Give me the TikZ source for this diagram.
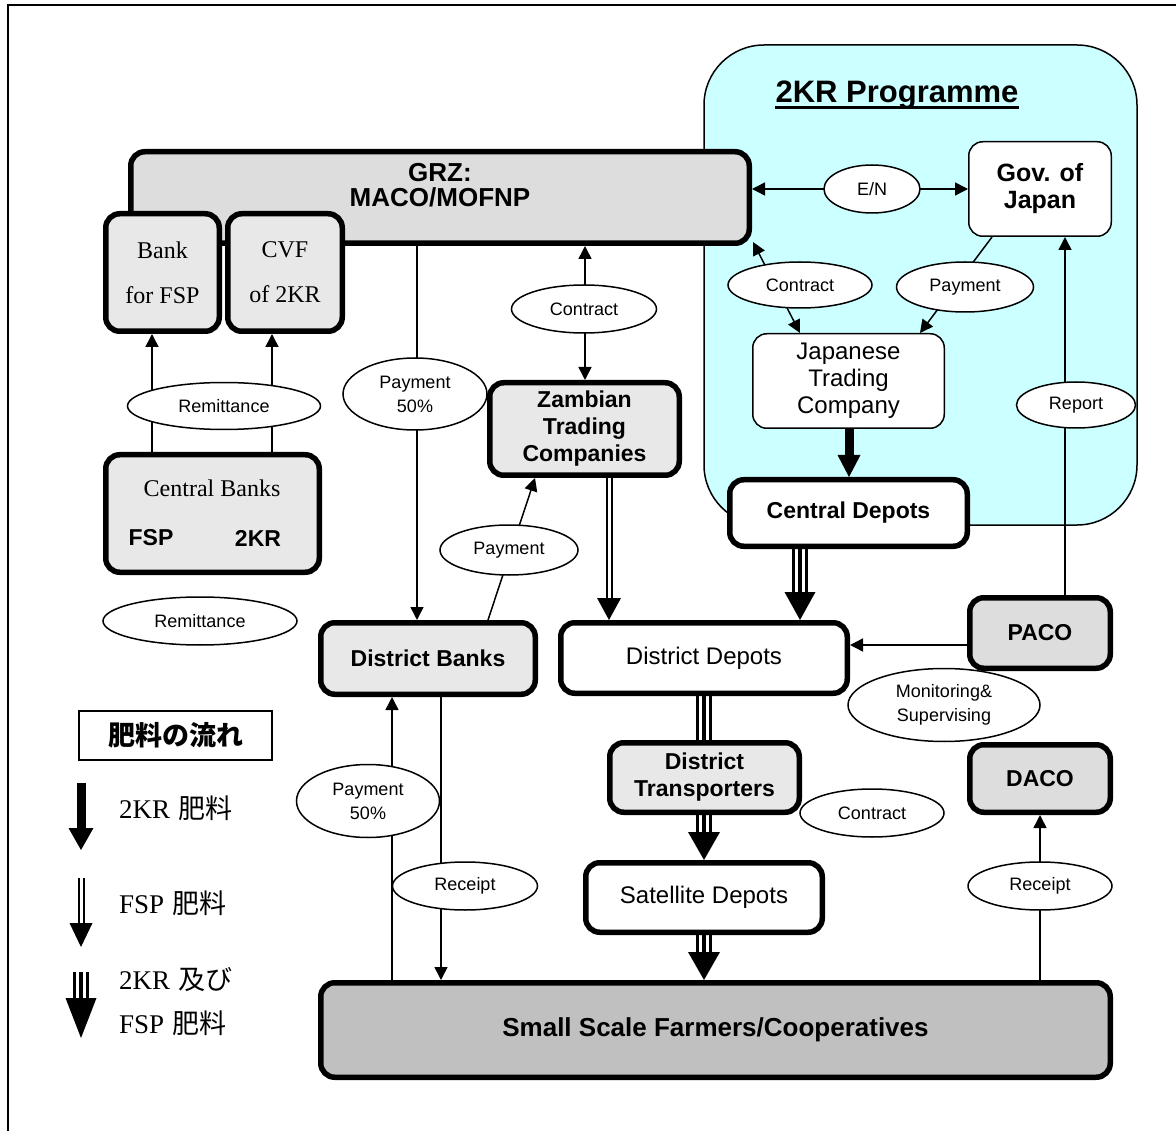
\documentclass[tikz,border=0pt]{standalone}
\usepackage{fontspec}
\setmainfont{Liberation Sans}
\newfontfamily\serifface{Liberation Serif}
\newfontfamily\jpfont{Noto Sans CJK JP}
\usetikzlibrary{shapes.geometric,arrows.meta}
\pgfdeclarelayer{back}
\pgfdeclarelayer{wires}
\pgfsetlayers{back,wires,main}
\definecolor{progcyan}{HTML}{CCFFFF}
\definecolor{midgray}{HTML}{DDDDDD}
\definecolor{palegray}{HTML}{E8E8E8}
\definecolor{farmgray}{HTML}{C0C0C0}
\tikzset{
  heavy/.style={draw, line width=5.5pt, rounded corners=14pt, align=center, inner sep=0pt,
    font=\fontsize{23}{27}\selectfont\bfseries},
  light/.style={draw, line width=1.5pt, rounded corners=14pt, align=center, inner sep=0pt, fill=white},
  oval/.style={draw, ellipse, line width=1.5pt, fill=white, inner sep=0pt, align=center,
    font=\fontsize{18}{24}\selectfont},
  txt/.style={inner sep=0pt, align=center},
  serifbox/.style={font=\serifface\fontsize{24}{45}\selectfont},
  arr/.style={line width=1.5pt, -{Triangle[length=13pt,width=13pt]}},
  arrboth/.style={line width=1.5pt, {Triangle[length=13pt,width=13pt]}-{Triangle[length=13pt,width=13pt]}},
  % three-stripe flow (2KR and FSP)
  triA/.style={line width=16pt},
  triB/.style={draw=white, line width=10pt},
  triC/.style={line width=4pt},
  % two-stripe flow (FSP)
  dblA/.style={line width=7pt},
  dblB/.style={draw=white, line width=3pt},
  % solid flow (2KR)
  fat/.style={line width=9pt},
  legendtext/.style={inner sep=0pt, anchor=west, font=\fontsize{27}{30}\selectfont}
}
\begin{document}
\begin{tikzpicture}[x=1pt,y=-1pt]
\useasboundingbox (0,0) rectangle (1176,1131);

% programme area
\begin{pgfonlayer}{back}
  \draw[fill=progcyan, line width=1.5pt, rounded corners=60pt] (704,45) rectangle (1137,525);
\end{pgfonlayer}

% outer frame
\draw[line width=2pt] (8,5) rectangle (1200,1160);

% title
\node[txt, anchor=base, font=\fontsize{31}{34}\selectfont\bfseries] (ttl) at (897,103) {2KR Programme};
\draw[line width=3pt] ([yshift=-5pt]ttl.base west) -- ([yshift=-5pt]ttl.base east);

% government and banks
\node[heavy, fill=midgray, minimum width=618.5pt, minimum height=91.5pt] (grz) at (440,197.5) {};
\node[txt, font=\fontsize{26}{25}\selectfont\bfseries] (grzt) at (440,185) {GRZ:\\MACO/MOFNP};
\node[heavy, serifbox, fill=palegray, minimum width=113.5pt, minimum height=117.5pt] (bank) at (162.5,272.5) {Bank\\for FSP};
\node[heavy, serifbox, fill=palegray, minimum width=114.5pt, minimum height=117.5pt] (cvf) at (285,272.5) {CVF\\of 2KR};
\node[heavy, fill=palegray, minimum width=213.5pt, minimum height=117.5pt] (cb) at (212.5,513.5) {};
\node[txt, font=\serifface\fontsize{24}{28}\selectfont] (cbt) at (212,488) {Central Banks};
\node[txt, font=\fontsize{23}{27}\selectfont\bfseries] (cbf) at (151,538) {FSP};
\node[txt, font=\fontsize{23}{27}\selectfont\bfseries] (cbk) at (258,538) {2KR};

% trading and depots
\node[heavy, fill=palegray, minimum width=189.5pt, minimum height=92.5pt] (zam) at (584.5,429) {Zambian\\Trading\\Companies};
\node[heavy, fill=palegray, minimum width=214.5pt, minimum height=71.5pt] (db) at (428,658.5) {District Banks};
\node[heavy, fill=white, font=\fontsize{24}{27}\selectfont, minimum width=286.5pt, minimum height=70.5pt] (dd) at (704,658) {District Depots};
\node[heavy, fill=white, minimum width=237.5pt, minimum height=66.5pt] (cd) at (848.5,513) {Central Depots};
\node[light, font=\fontsize{24}{27}\selectfont, minimum width=191.5pt, minimum height=94.5pt] (jtc) at (848.5,381) {Japanese\\Trading\\Company};
\node[light, font=\fontsize{25}{27}\selectfont\bfseries, minimum width=142.5pt, minimum height=94.5pt] (gov) at (1040,189) {Gov. of\\Japan};
\node[heavy, fill=midgray, minimum width=140.5pt, minimum height=70.5pt] (paco) at (1040,633) {PACO};
\node[heavy, fill=midgray, minimum width=140.5pt, minimum height=67.5pt] (daco) at (1040,778.5) {DACO};
\node[heavy, fill=palegray, minimum width=189.5pt, minimum height=69.5pt] (dt) at (704.5,777.5) {District\\Transporters};
\node[heavy, fill=white, font=\fontsize{24}{27}\selectfont, minimum width=236.5pt, minimum height=69.5pt] (sd) at (704,897.5) {Satellite Depots};
\node[heavy, fill=farmgray, font=\fontsize{26}{30}\selectfont\bfseries, minimum width=789.5pt, minimum height=94.5pt] (fa) at (715.5,1030) {Small Scale Farmers/Cooperatives};

% labels on the connectors
\node[oval, minimum width=193pt, minimum height=47pt] (rem1) at (224,406) {Remittance};
\node[oval, minimum width=194pt, minimum height=48pt] (rem2) at (200,621) {Remittance};
\node[oval, minimum width=144pt, minimum height=72pt] (pay50a) at (415,394) {Payment\\50\%};
\node[oval, minimum width=145pt, minimum height=48pt] (con1) at (584,309) {Contract};
\node[oval, minimum width=138pt, minimum height=50pt] (pay2) at (509,550) {Payment};
\node[oval, minimum width=96pt, minimum height=48pt] (en) at (872,189) {E/N};
\node[oval, minimum width=144pt, minimum height=46pt] (con2) at (800,285) {Contract};
\node[oval, minimum width=137pt, minimum height=50pt] (pay3) at (965,287) {Payment};
\node[oval, minimum width=119pt, minimum height=46pt] (rep) at (1076,405) {Report};
\node[oval, minimum width=192pt, minimum height=73pt] (mon) at (944,705) {Monitoring\&\\Supervising};
\node[oval, minimum width=144pt, minimum height=48pt] (rec2) at (1040,886) {Receipt};
\node[oval, minimum width=144pt, minimum height=48pt] (con3) at (872,813) {Contract};
\node[oval, minimum width=143pt, minimum height=73pt] (pay50b) at (368,801) {Payment\\50\%};
\node[oval, minimum width=145pt, minimum height=48pt] (rec1) at (465,886) {Receipt};

% legend
\node[draw, line width=1.2pt, inner sep=0pt, minimum width=193pt, minimum height=49pt,
      font=\jpfont\fontsize{27}{30}\selectfont\bfseries] (lgd) at (175.5,735.5) {肥料の流れ};
\node[legendtext] (lt1) at (119,808) {\serifface 2KR\hspace{0.3em}\jpfont 肥料};
\node[legendtext] (lt2) at (119,903) {\serifface FSP\hspace{0.3em}\jpfont 肥料};
\node[legendtext] (lt3) at (119,980) {\serifface 2KR\hspace{0.3em}\jpfont 及び};
\node[legendtext] (lt4) at (119,1023) {\serifface FSP\hspace{0.3em}\jpfont 肥料};
\coordinate (l1a) at (81,783);  \coordinate (l1b) at (81,850);
\coordinate (l2a) at (81,878);  \coordinate (l2b) at (81,947);
\coordinate (l3a) at (81,972);  \coordinate (l3b) at (81,1038);

% x and y positions of the straight connectors
\coordinate (xa) at (152,0);
\coordinate (xb) at (272,0);
\coordinate (xc) at (417,0);
\coordinate (xd) at (585,0);
\coordinate (xe) at (488,0);
\coordinate (xf) at (535,0);
\coordinate (xg) at (609,0);
\coordinate (xt) at (800,0);
\coordinate (xh) at (849,0);
\coordinate (xi) at (992,0);
\coordinate (xj) at (920,0);
\coordinate (xk) at (1065,0);
\coordinate (xm) at (392,0);
\coordinate (xn) at (441,0);
\coordinate (xs) at (704,0);
\coordinate (yl) at (0,645);

\begin{pgfonlayer}{wires}
  % money and documents
  \draw[arr] (cb.north -| xa) -- (bank.south -| xa);
  \draw[arr] (cb.north -| xb) -- (cvf.south -| xb);
  \draw[arr] (grz.south -| xc) -- (db.north -| xc);
  \draw[arrboth] (grz.south -| xd) -- (zam.north -| xd);
  \draw[arr] (db.north -| xe) -- (zam.south -| xf);
  \draw[arrboth] (grz.east |- en) -- (gov.west);
  \draw[arrboth] (jtc.north -| xt) -- ([xshift=1pt,yshift=4pt]grz.south east);
  \draw[arr] (gov.south -| xi) -- (jtc.north -| xj);
  \draw[arr] (paco.north -| xk) -- (gov.south -| xk);
  \draw[arr] (paco.west |- yl) -- (dd.east |- yl);
  \draw[arr] (fa.north -| daco.south) -- (daco.south);
  \draw[arr] (fa.north -| xm) -- (db.south -| xm);
  \draw[arr] (db.south -| xn) -- (fa.north -| xn);

  % fertiliser flows
  \draw[fat, -{Triangle[length=22pt,width=23pt,line width=0pt]}] (jtc.south -| xh) -- (cd.north -| xh);

  \draw[dblA, -{Triangle[length=22pt,width=24pt,line width=0pt]}] (zam.south -| xg) -- (dd.north -| xg);
  \draw[dblB, shorten >=22pt] (zam.south -| xg) -- (dd.north -| xg);

  \draw[triA, -{Triangle[length=28pt,width=31pt,line width=0pt]}] (cd.south -| xt) -- (dd.north -| xt);
  \draw[triB, shorten >=28pt] (cd.south -| xt) -- (dd.north -| xt);
  \draw[triC, shorten >=28pt] (cd.south -| xt) -- (dd.north -| xt);

  \draw[triA] (dd.south -| xs) -- (dt.north -| xs);
  \draw[triB] (dd.south -| xs) -- (dt.north -| xs);
  \draw[triC] (dd.south -| xs) -- (dt.north -| xs);

  \draw[triA, -{Triangle[length=28pt,width=32pt,line width=0pt]}] (dt.south -| xs) -- (sd.north -| xs);
  \draw[triB, shorten >=28pt] (dt.south -| xs) -- (sd.north -| xs);
  \draw[triC, shorten >=28pt] (dt.south -| xs) -- (sd.north -| xs);

  \draw[triA, -{Triangle[length=28pt,width=32pt,line width=0pt]}] (sd.south -| xs) -- (fa.north -| xs);
  \draw[triB, shorten >=28pt] (sd.south -| xs) -- (fa.north -| xs);
  \draw[triC, shorten >=28pt] (sd.south -| xs) -- (fa.north -| xs);

  % legend arrows
  \draw[fat, -{Triangle[length=22pt,width=25pt,line width=0pt]}] (l1a) -- (l1b);
  \draw[dblA, -{Triangle[length=24pt,width=23pt,line width=0pt]}] (l2a) -- (l2b);
  \draw[dblB, shorten >=24pt] (l2a) -- (l2b);
  \draw[triA, -{Triangle[length=40pt,width=31pt,line width=0pt]}] (l3a) -- (l3b);
  \draw[triB, shorten >=40pt] (l3a) -- (l3b);
  \draw[triC, shorten >=40pt] (l3a) -- (l3b);
\end{pgfonlayer}
\end{tikzpicture}
\end{document}
